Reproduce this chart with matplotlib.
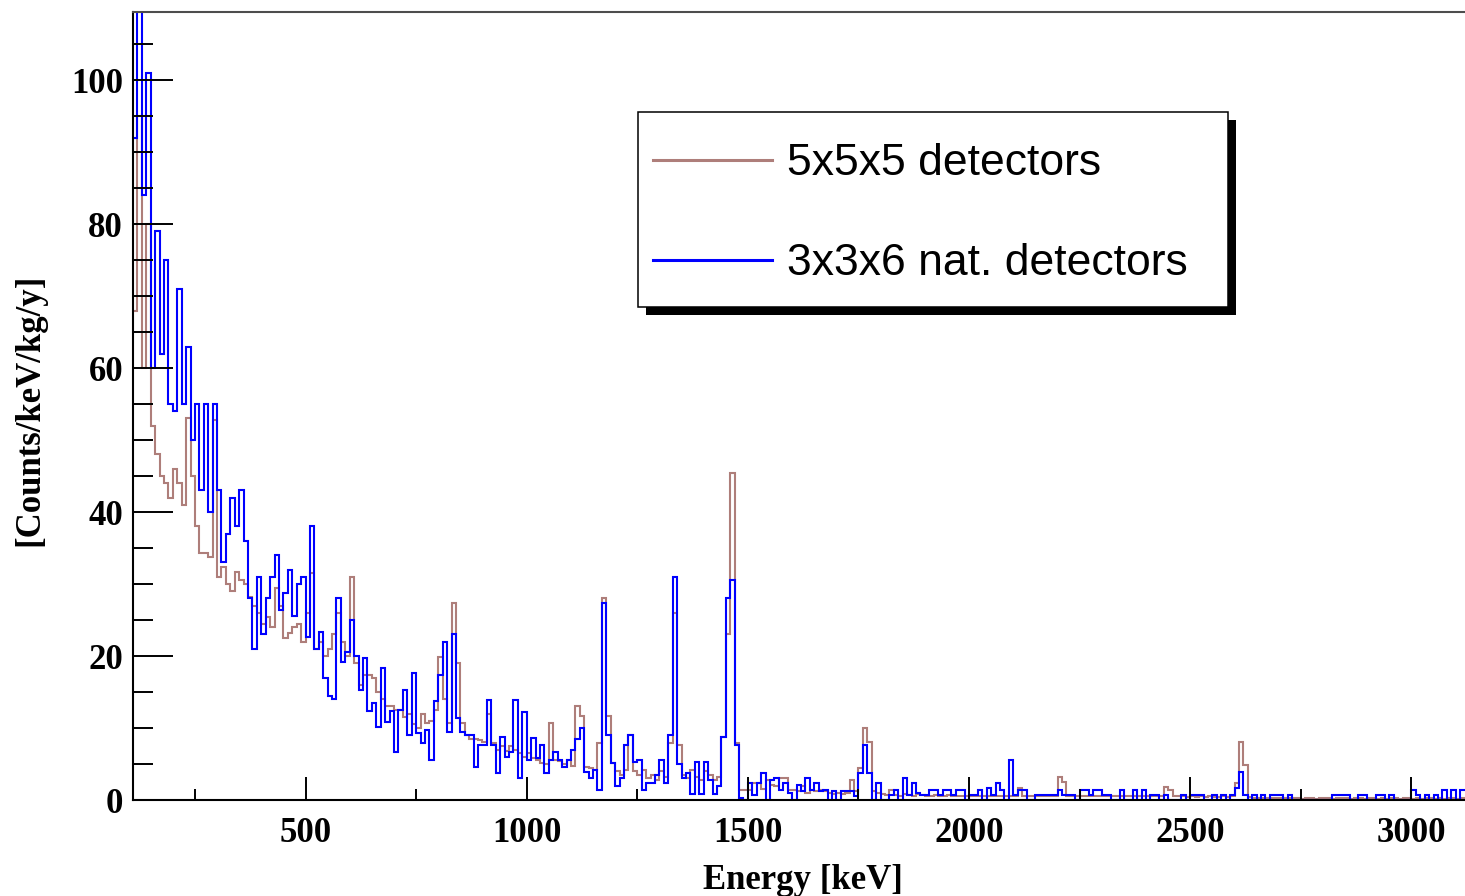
import numpy as np
import matplotlib
matplotlib.use("Agg")
import matplotlib.pyplot as plt
from matplotlib.ticker import MultipleLocator
from matplotlib.patches import Rectangle
from matplotlib.lines import Line2D

# Histogram binning (keV)
bin_start = 110
bin_width = 10

# Background spectrum, 5x5x5 detectors [counts/keV/kg/y], one value per 10 keV bin from 110 keV
counts_555 = [
    68, 95, 60, 80, 52, 48, 45, 44, 42, 46,
    44, 41, 53, 45, 38, 34.3, 34.3, 33.8, 52.8, 31,
    32.4, 30, 29, 31.7, 30.5, 30, 28.2, 27, 26, 24.5,
    25.4, 24, 29.5, 27, 22.5, 23.2, 24, 24.5, 22, 26,
    31.5, 21, 22, 20, 21, 23, 26, 22, 20, 31,
    19, 16, 17.4, 17.4, 17, 15, 14, 13, 13, 12.5,
    12.5, 11.5, 12, 10.5, 10, 12, 10.7, 11, 12.5, 19.9,
    14, 10.7, 27.4, 19, 10.7, 9, 8.5, 8.5, 8.3, 8,
    12, 7.9, 7, 7.5, 6.8, 7.5, 7, 6.5, 6, 6.5,
    5.8, 5.5, 5.1, 5, 10.7, 5.5, 5.4, 5, 5.6, 4.7,
    13, 11.6, 4.6, 4.4, 4.2, 7.9, 28, 11.6, 5.1, 4,
    3.5, 4.2, 9, 4, 3.5, 4.2, 3, 3.5, 2.8, 4,
    3.2, 7.9, 26, 7.6, 3.5, 3, 4.2, 3.2, 2.8, 4,
    3.5, 2.8, 3.2, 8.8, 23, 45.4, 7.9, 1.4, 1.4, 1.4,
    2.3, 2.3, 1.5, 2.8, 2.1, 2, 3, 3, 1.4, 1.4,
    1.2, 2, 1, 1.4, 1.2, 1.4, 1.2, 1, 0.8, 1,
    0.8, 1, 2.8, 1.2, 4.5, 10, 8, 1.2, 1, 0.8,
    0.7, 1.4, 0.7, 0.6, 0.8, 0.7, 0.6, 0.8, 0.7, 0.6,
    0.6, 0.7, 0.6, 0.6, 0.7, 0.6, 0.5, 0.6, 0.5, 0.6,
    0.5, 0.6, 0.5, 0.5, 0.6, 0.5, 0.5, 0.5, 0.6, 0.5,
    1.6, 0.5, 0.5, 0.5, 0.5, 0.5, 0.5, 0.5, 0.5, 3.2,
    2.5, 0.6, 0.5, 0.5, 0.6, 0.5, 0.5, 0.6, 0.5, 0.5,
    0.5, 0.5, 0.6, 0.5, 0.5, 0.5, 0.6, 0.5, 0.5, 0.5,
    0.5, 0.5, 0.6, 1.8, 1.4, 0.5, 0.5, 0.5, 0.4, 0.5,
    0.4, 0.5, 0.4, 0.5, 0.4, 0.4, 0.5, 0.4, 0.5, 2.3,
    8.1, 4.9, 0.4, 0.3, 0.3, 0.3, 0.3, 0.3, 0.3, 0.3,
    0.3, 0.3, 0.3, 0.3, 0.2, 0.3, 0.3, 0.2, 0.3, 0.3,
    0.3, 0.2, 0.3, 0.3, 0.3, 0.2, 0.3, 0.3, 0.2, 0.3,
    0.3, 0.2, 0.3, 0.2, 0.3, 0.3, 0.2, 0.3, 0.3, 0.2,
    0.3, 0.2, 0.3, 0.3, 0.2, 0.3, 0.2, 0.3, 0.3, 0.2, 0.3,
]

# Background spectrum, 3x3x6 natural detectors
counts_336 = [
    92, 125, 84, 101, 60, 79, 62, 75, 55, 54,
    71, 55, 63, 50, 55, 43, 55, 40, 55, 43,
    33, 37, 42, 38, 43, 36, 28, 21, 31, 23,
    28, 31, 34, 26.4, 28.7, 32, 25.5, 30, 31, 22.7,
    38, 21, 23.4, 17, 14.4, 14, 28, 19.2, 20.6, 25,
    20, 15.3, 19.7, 12.3, 13.5, 10.2, 18.3, 10.9, 12.3, 6.7,
    12.5, 15.3, 9, 17.6, 9.3, 7.9, 9.7, 5.6, 13.7, 17.4,
    22, 9.5, 23, 11.4, 9.5, 9, 9, 4.6, 7.6, 7.6,
    13.9, 7.6, 3.7, 8.8, 6, 6.7, 13.9, 3, 12.2, 5.6,
    8.6, 5.8, 7.6, 3.7, 5.6, 6.7, 5.6, 4.6, 5.6, 7,
    8.5, 10, 3.9, 3, 4.2, 1.4, 27.4, 9, 5.1, 1.9,
    3, 7.6, 9, 5.3, 5.6, 1.4, 2.3, 2.3, 3.5, 5.6,
    2.3, 9, 31, 5, 3, 3.7, 0.9, 5.3, 0.9, 5.3,
    2.8, 0.9, 1.9, 8.8, 28, 30.6, 7.6, 0.3, 0, 2.3,
    0.7, 2.3, 3.7, 0, 2.8, 3, 1.4, 2.3, 1, 0,
    2.1, 1.2, 3, 1.4, 2.3, 1.2, 1.4, 0, 1.2, 0,
    1.2, 1.2, 1.2, 0.6, 3.7, 7.6, 3.7, 0, 2.3, 0,
    0, 0.7, 1.4, 0, 3, 0.7, 2.3, 1, 0.7, 0.7,
    1.4, 1.4, 0.7, 1.4, 1.4, 0.7, 1.4, 1.4, 0, 0.7,
    0.7, 1.4, 0, 1.6, 0.7, 2.3, 1.4, 0, 5.6, 0.7,
    1.4, 1.4, 0, 0, 0.7, 0.7, 0.7, 0.7, 0.7, 1.4,
    0.7, 0.7, 0.7, 0, 1.4, 1.4, 0.7, 1.4, 1.4, 0.7,
    0.7, 0, 0, 1.4, 0, 0, 1.4, 0, 1.4, 0,
    0.7, 0.7, 0, 0.7, 0, 0, 0, 0.7, 0, 0.7,
    0.7, 0.7, 0, 0, 0.7, 0, 0.7, 0, 0.7, 1.6,
    3.9, 0.7, 0, 0.7, 0, 0.7, 0, 0.7, 0.7, 0.7,
    0, 0.7, 0, 0, 0, 0, 0, 0, 0, 0,
    0, 0.7, 0.7, 0.7, 0.7, 0, 0, 0.7, 0.7, 0,
    0, 0.7, 0.7, 0, 0.7, 0, 0, 0, 0, 1.4,
    0.7, 0, 0.7, 0, 0.7, 0, 1.4, 0, 1.4, 0, 1.4,
]

series_labels = ["5x5x5 detectors", "3x3x6 nat. detectors"]
x_ticks = [500, 1000, 1500, 2000, 2500, 3000]
y_ticks = [0, 20, 40, 60, 80, 100]

color_555 = "#ae7e7a"
color_336 = "#0000ff"

W, H = 1465, 896
fig = plt.figure(figsize=(W / 100, H / 100), dpi=100)
fig.patch.set_facecolor("white")

# Frame: left spine at x=133 px, bottom at y=800 px, top at y=12.5 px; the right side runs off the canvas
ax = fig.add_axes([133 / W, (H - 800) / H, (W - 133) / W, (800 - 12.5) / H])

edges_555 = bin_start + bin_width * np.arange(len(counts_555) + 1)
edges_336 = bin_start + bin_width * np.arange(len(counts_336) + 1)

ax.stairs(counts_555, edges_555, color=color_555, lw=1.5, baseline=None)
ax.stairs(counts_336, edges_336, color=color_336, lw=1.5, baseline=None)

ax.set_xlim(110, 3121)
ax.set_ylim(0, 109.4)

ax.set_xticks(x_ticks)
ax.set_yticks(y_ticks)
ax.xaxis.set_minor_locator(MultipleLocator(250))
ax.yaxis.set_minor_locator(MultipleLocator(5))

ax.tick_params(axis="both", which="both", direction="in", top=False, right=False,
               color="black", width=1.4)
ax.tick_params(axis="x", which="major", length=16.6, pad=12.5)
ax.tick_params(axis="x", which="minor", length=8)
ax.tick_params(axis="y", which="major", length=28.8, pad=7.2)
ax.tick_params(axis="y", which="minor", length=14.4)

serif_bold = dict(family="Liberation Serif", weight="bold", size=25)
for lab in ax.get_xticklabels() + ax.get_yticklabels():
    lab.set_fontfamily("Liberation Serif")
    lab.set_fontweight("bold")
    lab.set_fontsize(25)

for side in ("left", "bottom"):
    ax.spines[side].set_color("black")
    ax.spines[side].set_linewidth(1.5)
ax.spines["top"].set_color("#4d4d4d")
ax.spines["top"].set_linewidth(1.5)
ax.spines["right"].set_visible(False)

ax.set_xlabel("Energy [keV]", fontdict=serif_bold, va="center")
ax.xaxis.set_label_coords((803 - 133) / 1332, (800 - 880) / 787.5)
ax.set_ylabel("[Counts/keV/kg/y]", fontdict=serif_bold, va="center")
ax.yaxis.set_label_coords((30 - 133) / 1332, (800 - 410) / 787.5)


# Legend box with a solid drop shadow, placed in canvas pixels
def fx(px):
    return px / W


def fy(py):
    return 1 - py / H


bx0, by0, bx1, by1 = 638, 112, 1228, 307
shadow = 8
fig.add_artist(Rectangle((fx(bx0 + shadow), fy(by1 + shadow)),
                         fx(bx1 - bx0), (by1 - by0) / H,
                         transform=fig.transFigure, facecolor="black",
                         edgecolor="none", zorder=5))
fig.add_artist(Rectangle((fx(bx0), fy(by1)), fx(bx1 - bx0), (by1 - by0) / H,
                         transform=fig.transFigure, facecolor="white",
                         edgecolor="black", lw=1.1, zorder=6))

for label, col, ly in zip(series_labels, [color_555, color_336], [160, 260]):
    fig.add_artist(Line2D([fx(653), fx(772)], [fy(ly), fy(ly)],
                          transform=fig.transFigure, color=col, lw=2.2, zorder=7))
    fig.text(fx(787), fy(ly + 15), label, family="Liberation Sans", size=32,
             va="baseline", ha="left", zorder=7)

fig.savefig("out.png", dpi=100)
